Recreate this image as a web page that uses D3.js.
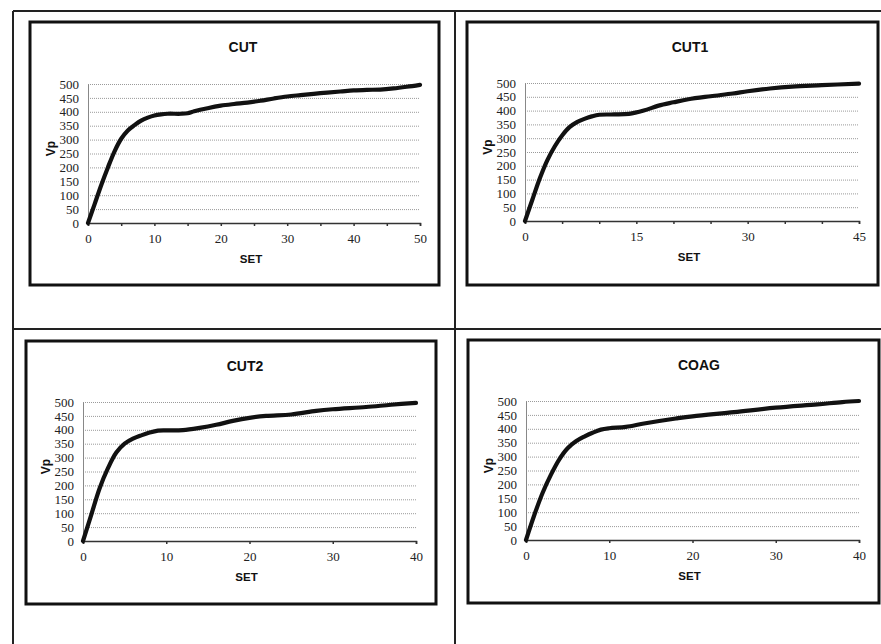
<!DOCTYPE html>
<html><head><meta charset="utf-8">
<script src="https://cdn.jsdelivr.net/npm/d3@7"></script>
<style>
body{margin:0;background:#fff;}
svg{display:block;}
</style></head>
<body>
<svg id="c" width="881" height="644"></svg>
<script>
// ---- data ----
const cutX  = [0,1,2,3,4,5,6,7,8,9,10,11,12,14,15,16,18,20,22,24,26,28,30,32,35,38,40,42,44,46,48,50];
const cutY  = [0,68,137,200,258,303,333,352,368,379,387,391,393,393,395,402,413,422,428,433,440,448,455,460,467,473,477,479,480,484,490,497];
const cut1X = [0,1,2,3,4,5,6,7,8,9,10,12,14,16,18,20,22,25,28,30,33,36,40,45];
const cut1Y = [0,78,155,220,270,310,340,358,370,379,385,386,388,400,418,430,441,452,462,470,480,487,492,498];
const cut2X = [0,1,2,3,4,5,6,7,8,9,10,12,14,16,18,20,22,25,28,30,34,37,40];
const cut2Y = [0,95,190,262,318,350,368,380,390,397,398,399,407,418,432,443,450,455,468,474,482,490,497];
const coagX = [0,1,2,3,4,5,6,7,8,9,10,12,14,16,18,20,25,30,35,38,40];
const coagY = [0,90,170,235,290,330,355,372,386,397,402,407,418,428,437,445,460,476,488,496,500];
const titles = ["CUT","CUT1","CUT2","COAG"];
const xLabelTicks = [[0,10,20,30,40,50],[0,15,30,45],[0,10,20,30,40],[0,10,20,30,40]];
const xMax = [50,45,40,40];
const yTicks = [0,50,100,150,200,250,300,350,400,450,500];
const xTitle = "SET", yTitle = "Vp";

const svg = d3.select("#c");
const SERIF = "Liberation Serif, Times New Roman, serif";
const SANS = "Liberation Sans, Arial, sans-serif";

// outer frame lines
const frame = svg.append("g").attr("stroke","#222").attr("stroke-width",2);
frame.append("line").attr("x1",13).attr("y1",11).attr("x2",881).attr("y2",11);
frame.append("line").attr("x1",13).attr("y1",11).attr("x2",13).attr("y2",644);
frame.append("line").attr("x1",455).attr("y1",11).attr("x2",455).attr("y2",644);
frame.append("line").attr("x1",13).attr("y1",329).attr("x2",881).attr("y2",329);

const layouts = [
  {box:[30,22,439,285], plot:[88,84,420,223], minor:5, tx:243},
  {box:[467,22,878,285], plot:[525,83,859,221], minor:5, tx:690},
  {box:[26,341,436,604], plot:[83,402,416,541], minor:0, tx:245},
  {box:[468,340,879,603], plot:[526,401,859,540], minor:0, tx:699}
];
const seriesX = [cutX,cut1X,cut2X,coagX];
const seriesY = [cutY,cut1Y,cut2Y,coagY];

layouts.forEach((L,i)=>{
  const g = svg.append("g");
  const [bx0,by0,bx1,by1] = L.box;
  const [px0,py0,px1,py1] = L.plot;
  g.append("rect").attr("x",bx0).attr("y",by0).attr("width",bx1-bx0).attr("height",by1-by0)
    .attr("fill","#fff").attr("stroke","#111").attr("stroke-width",3);

  const x = d3.scaleLinear().domain([0,xMax[i]]).range([px0,px1]);
  const y = d3.scaleLinear().domain([0,500]).range([py1,py0]);

  // gridlines
  const grid = g.append("g").attr("transform",`translate(${px0},0)`)
    .call(d3.axisLeft(y).tickValues(yTicks.slice(1)).tickSize(-(px1-px0)).tickFormat(""));
  grid.select(".domain").remove();
  grid.selectAll("line").attr("stroke","#9a9a9a").attr("stroke-width",1).attr("stroke-dasharray","1,1");

  // y axis
  const ya = g.append("g").attr("transform",`translate(${px0},0)`)
    .call(d3.axisLeft(y).tickValues(yTicks).tickSize(0).tickPadding(9));
  ya.attr("font-family",SERIF).attr("font-size",13);
  ya.select(".domain").attr("stroke","#888");
  ya.selectAll("text").attr("font-family",SERIF).attr("font-size",13).attr("fill","#222");

  // x axis
  const allTicks = L.minor ? d3.range(0,xMax[i]+0.001,L.minor) : xLabelTicks[i];
  const xa = g.append("g").attr("transform",`translate(0,${py1})`)
    .call(d3.axisBottom(x).tickValues(allTicks).tickSize(3).tickPadding(8)
      .tickFormat(d=>xLabelTicks[i].includes(d)?d:""));
  xa.attr("font-family",SERIF).attr("font-size",13);
  xa.select(".domain").attr("stroke","#333").attr("stroke-width",1.5);
  xa.selectAll("line").attr("stroke","#333").attr("stroke-width",1.5);
  xa.selectAll("text").attr("font-family",SERIF).attr("font-size",13).attr("fill","#222");

  // line
  const data = seriesX[i].map((v,k)=>[v,seriesY[i][k]]);
  g.append("path").datum(data)
    .attr("d",d3.line().x(d=>x(d[0])).y(d=>y(d[1])).curve(d3.curveCatmullRom.alpha(0.5)))
    .attr("fill","none").attr("stroke","#111").attr("stroke-width",4.2)
    .attr("stroke-linecap","round").attr("stroke-linejoin","round");

  // titles
  g.append("text").attr("x",L.tx).attr("y",by0+30).attr("text-anchor","middle")
    .attr("font-family",SANS).attr("font-weight","bold").attr("font-size",14)
    .attr("fill","#111").text(titles[i]);
  g.append("text").attr("x",(px0+px1)/2-3).attr("y",py1+40).attr("text-anchor","middle")
    .attr("font-family",SANS).attr("font-weight","bold").attr("font-size",11.5)
    .attr("fill","#111").text(xTitle);
  g.append("text").attr("transform",`translate(${px0-33},${(py0+py1)/2-5}) rotate(-90)`)
    .attr("text-anchor","middle")
    .attr("font-family",SANS).attr("font-weight","bold").attr("font-size",12)
    .attr("fill","#111").text(yTitle);
});
</script>
</body></html>
